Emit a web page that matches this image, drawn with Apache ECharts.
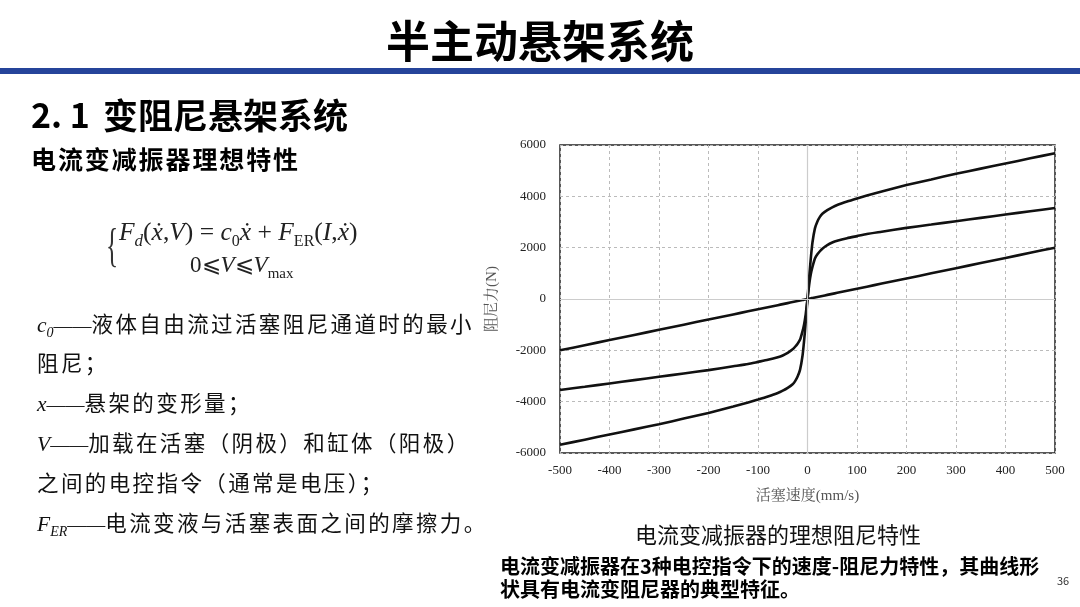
<!DOCTYPE html>
<html><head><meta charset="utf-8">
<script src="https://cdn.jsdelivr.net/npm/echarts@6/dist/echarts.min.js"></script>
<style>
html,body{margin:0;padding:0;background:#fff;}
#wrap{position:relative;width:1080px;height:607px;overflow:hidden;font-family:"Noto Sans CJK SC","Noto Sans",sans-serif;}
#chart{position:absolute;left:0;top:0;width:1080px;height:607px;}
.t{position:absolute;white-space:nowrap;color:#000;}
.serif{font-family:"Liberation Serif","DejaVu Serif",serif;}
.i{font-style:italic;font-family:"Liberation Serif",serif;}
.body{font-size:21.5px;letter-spacing:2.4px;color:#111;}
.d{font-family:"Liberation Serif",serif;letter-spacing:0;font-size:19px;}
</style></head>
<body><div id="wrap">
<div id="chart"></div>
<div class="t" style="left:0;width:1080px;text-align:center;top:9px;font-size:44px;font-weight:bold;line-height:60px;">半主动悬架系统</div>
<div style="position:absolute;left:0;top:68px;width:1080px;height:6px;background:#25449a;"></div>
<div class="t" style="left:31px;top:90px;font-size:34px;font-weight:bold;line-height:48px;">2.&nbsp;1</div>
<div class="t" style="left:103px;top:90px;font-size:35px;font-weight:bold;line-height:48px;">变阻尼悬架系统</div>
<div class="t" style="left:31px;top:141px;font-size:25px;font-weight:bold;letter-spacing:1.9px;line-height:34px;">电流变减振器理想特性</div>

<div class="t serif" style="left:106px;top:216px;font-size:46px;line-height:60px;color:#333;transform:scaleX(0.55);transform-origin:left top;">{</div>
<div class="t serif" style="left:119px;top:216px;font-size:25.5px;color:#222;line-height:32px;"><span class="i">F<sub style="font-size:17px">d</sub></span>(<span class="i">ẋ</span>,<span class="i">V</span>) = <span class="i">c</span><sub style="font-size:16px">0</sub><span class="i">ẋ</span> + <span class="i">F</span><sub style="font-size:16px">ER</sub>(<span class="i">I</span>,<span class="i">ẋ</span>)</div>
<div class="t serif" style="left:190px;top:250px;font-size:23px;color:#222;line-height:30px;">0⩽<span class="i">V</span>⩽<span class="i">V</span><sub style="font-size:15px">max</sub></div>

<div class="t body" style="left:37px;top:307px;"><span class="i" style="letter-spacing:0">c<sub style="font-size:14px">0</sub></span><span class="d">——</span>液体自由流过活塞阻尼通道时的最小</div>
<div class="t body" style="left:37px;top:346px;">阻尼；</div>
<div class="t body" style="left:37px;top:386px;"><span class="i" style="letter-spacing:0">x</span><span class="d">——</span>悬架的变形量；</div>
<div class="t body" style="left:37px;top:426px;"><span class="i" style="letter-spacing:0">V</span><span class="d">——</span>加载在活塞（阴极）和缸体（阳极）</div>
<div class="t body" style="left:37px;top:466px;">之间的电控指令（通常是电压）；</div>
<div class="t body" style="left:37px;top:506px;"><span class="i" style="letter-spacing:0">F<sub style="font-size:14px">ER</sub></span><span class="d">——</span>电流变液与活塞表面之间的摩擦力。</div>

<div class="t" style="left:560px;width:436px;text-align:center;top:518px;font-size:22px;color:#111;line-height:30px;">电流变减振器的理想阻尼特性</div>
<div class="t" style="left:500px;top:554px;font-size:20px;font-weight:bold;line-height:23px;">电流变减振器在3种电控指令下的速度-阻尼力特性，其曲线形<br>状具有电流变阻尼器的典型特征。</div>
<div class="t" style="left:1057px;top:572px;font-size:11px;color:#333;">36</div>
</div>
<script>
const velocity = [-500,-450,-400,-350,-300,-250,-200,-150,-120,-100,-80,-60,-50,-40,-30,-25,-20,-15,-10,-7,-4,-2,0,2,4,7,10,15,20,25,30,40,50,60,80,100,120,150,200,250,300,350,400,450,500];
const forceHighPos = [0,500,1000,1650,2200,2750,3020,3200,3320,3460,3570,3660,3795,3915,4030,4190,4440,4660,4880,5080,5280,5480,5680];
const forceMidPos  = [0,330,650,1000,1250,1580,1740,1860,1960,2100,2200,2270,2370,2450,2530,2620,2770,2900,3030,3160,3290,3420,3545];
const forceLowPos  = [0,8,16,28,40,60,80,100,120,160,200,240,320,400,480,600,800,1000,1200,1400,1600,1800,2000];
const xTicks = [-500,500,100];
const yTicks = [-6000,6000,2000];
const xName = '活塞速度(mm/s)';
const yName = '阻尼力(N)';

// curves are point-symmetric about the origin: negative half mirrors the positive half
const full = pos => pos.slice(1).reverse().map(v=>-v).concat(pos);
const pairs = arr => velocity.map((v,i)=>[v,arr[i]]);
const lineStyle = {color:'#111',width:2.6};
const mk = (d)=>({type:'line',data:pairs(full(d)),smooth:0.2,showSymbol:false,lineStyle:lineStyle,silent:true});
const chart = echarts.init(document.getElementById('chart'));
const serif = '"Liberation Serif","Noto Serif CJK SC","Noto Sans CJK SC",serif';
chart.setOption({
  animation:false,
  grid:{left:560,top:145,width:495,height:308,show:true,borderColor:'#222',borderWidth:1.5,backgroundColor:'transparent'},
  xAxis:{type:'value',min:xTicks[0],max:xTicks[1],interval:xTicks[2],
    name:xName,nameLocation:'middle',nameGap:36,nameTextStyle:{fontFamily:serif,fontSize:15,color:'#555'},
    axisLine:{show:false},axisTick:{show:false},
    axisLabel:{fontFamily:serif,fontSize:13,color:'#222',margin:11,formatter:v=>String(v)},
    splitLine:{show:true,lineStyle:{type:[3,3],color:'#bbb',width:1}}},
  yAxis:{type:'value',min:yTicks[0],max:yTicks[1],interval:yTicks[2],
    name:yName,nameLocation:'middle',nameRotate:90,nameGap:60,nameTextStyle:{fontFamily:serif,fontSize:15,color:'#555'},
    axisLine:{show:false},axisTick:{show:false},
    axisLabel:{fontFamily:serif,fontSize:13,color:'#222',margin:14,formatter:v=>String(v)},
    splitLine:{show:true,lineStyle:{type:[3,3],color:'#bbb',width:1}}},
  series:[
    Object.assign(mk(forceHighPos),{markLine:{silent:true,symbol:'none',label:{show:false},lineStyle:{type:'solid',color:'#ccc',width:1.2},data:[{xAxis:0},{yAxis:0}]}}),
    mk(forceMidPos),
    mk(forceLowPos)
  ]
});
</script>
</body></html>
